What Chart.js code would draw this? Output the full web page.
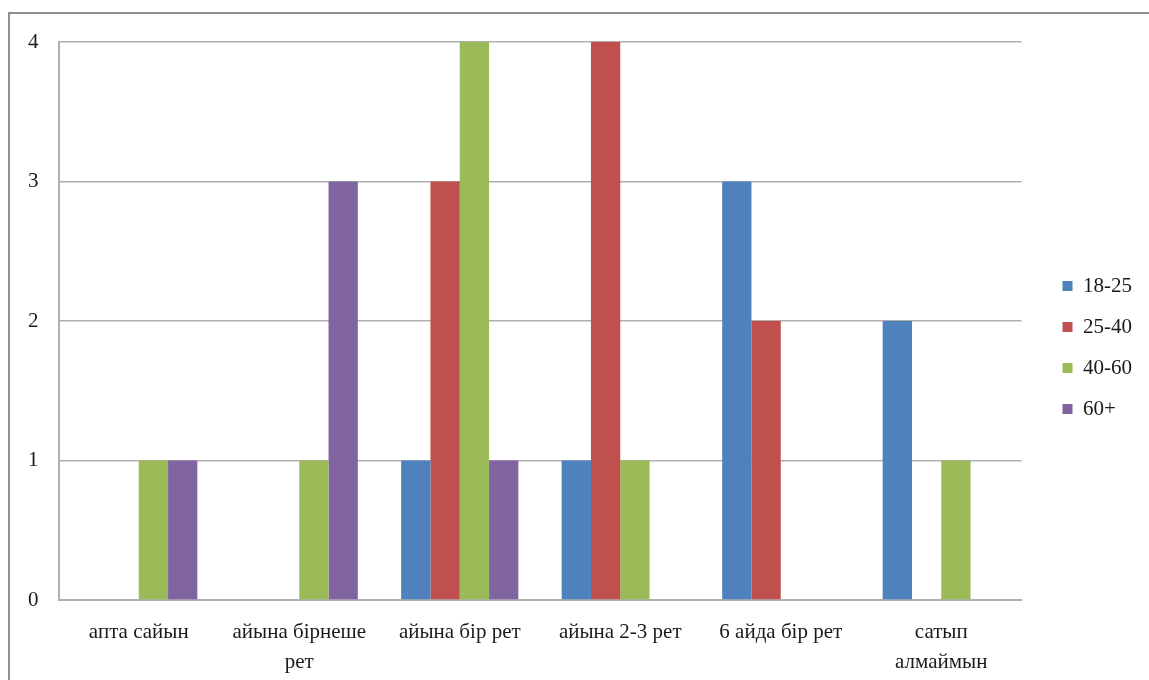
<!DOCTYPE html>
<html>
<head>
<meta charset="utf-8">
<script src="https://cdn.jsdelivr.net/npm/chart.js@4.4.1/dist/chart.umd.min.js"></script>
<style>
  html, body { margin: 0; padding: 0; background: #fff; }
  #wrap { position: relative; width: 1149px; height: 680px; overflow: hidden; }
  /* рамка слева и сверху, как на исходной картинке */
  #frame { position: absolute; left: 8px; top: 12px; width: 1200px; height: 700px;
           border-left: 2px solid #8f8f8f; border-top: 2px solid #8f8f8f; }
  canvas { position: absolute; left: 0; top: 0; }
</style>
</head>
<body>
<div id="wrap">
  <div id="frame"></div>
  <canvas id="chart" width="1149" height="680"></canvas>
</div>
<script>
/* ================= DATA ================= */
const categories = [
    "апта сайын",
    ["айына бірнеше", "рет"],
    "айына бір рет",
    "айына 2-3 рет",
    "6 айда бір рет",
    ["сатып", "алмаймын"]
];
const seriesNames = ["18-25", "25-40", "40-60", "60+"];
const age18_25 = [0, 0, 1, 1, 3, 2];
const age25_40 = [0, 0, 3, 4, 2, 0];
const age40_60 = [1, 1, 4, 1, 0, 1];
const age60plus = [1, 3, 1, 0, 0, 0];
const yTicks = [0, 1, 2, 3, 4];

const colors = ["#4F81BD", "#C0504D", "#9BBB59", "#8064A2"];
const font = { family: "'Liberation Serif', 'Times New Roman', serif", size: 21 };

/* ================= CHART ================= */
function loadChart(){
    const values = [age18_25, age25_40, age40_60, age60plus];

    const datasets = seriesNames.map((name, i) => ({
        label: name,
        data: values[i],
        backgroundColor: colors[i],
        borderWidth: 0,
        categoryPercentage: 0.73,
        barPercentage: 1.0,
        yAxisID: "y"
    }));

    new Chart(document.getElementById("chart"), {
        type: "bar",
        data: { labels: categories, datasets: datasets },
        options: {
            responsive: false,
            animation: false,
            layout: { padding: { top: 42, left: 8, right: 7, bottom: 3 } },
            plugins: {
                tooltip: { enabled: false },
                legend: {
                    position: "right",
                    fullSize: false,
                    // пустой заголовок только сдвигает пункты легенды вниз
                    title: { display: true, text: "", font: { size: 10, lineHeight: 1 },
                             padding: { top: 43, bottom: 0 } },
                    labels: {
                        boxWidth: 10,
                        boxHeight: 10,
                        padding: 20,
                        color: "#1a1a1a",
                        font: font
                    }
                }
            },
            scales: {
                x: {
                    grid: { display: false, drawTicks: false },
                    border: { color: "#b0b0b0", width: 2 },
                    ticks: {
                        color: "#1a1a1a",
                        font: { ...font, lineHeight: "30px" },
                        padding: 17,
                        maxRotation: 0,
                        autoSkip: false
                    },
                    afterFit: s => { s.height = 77; }
                },
                y: {
                    min: 0,
                    max: 4,
                    afterBuildTicks: s => { s.ticks = yTicks.map(v => ({ value: v })); },
                    grid: { color: "#b0b0b0", lineWidth: 1.5, drawTicks: false },
                    border: { color: "#b0b0b0", width: 2 },
                    ticks: { color: "#1a1a1a", font: font, padding: 20 }
                },
                // пустая ось справа — просто отступ между графиком и легендой
                gap: {
                    position: "right",
                    display: true,
                    grid: { display: false, drawTicks: false },
                    border: { display: false },
                    ticks: { display: false },
                    afterFit: s => { s.width = 21; }
                }
            }
        }
    });
}

window.onload = () => {
    loadChart();
};
</script>
</body>
</html>
